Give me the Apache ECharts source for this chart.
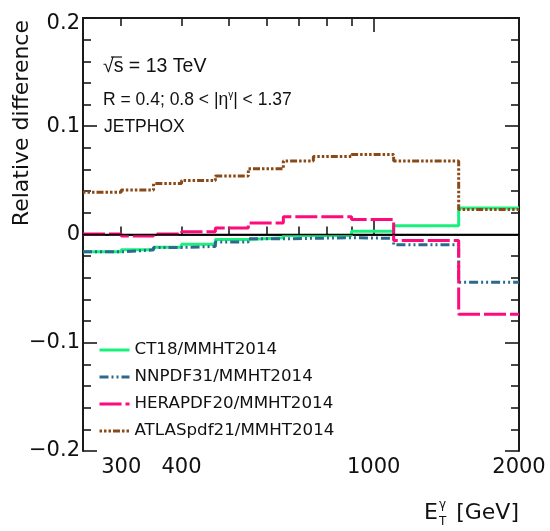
<!DOCTYPE html>
<html><head><meta charset="utf-8">
<script src="https://cdn.jsdelivr.net/npm/echarts@6/dist/echarts.min.js"></script>
<style>html,body{margin:0;padding:0;background:#fff}#c{width:550px;height:531px}</style>
</head><body><div id="c"></div>
<script>
// Bin edges of photon E_T (GeV)
const binEdges = [250, 275, 300, 350, 400, 470, 550, 650, 750, 900, 1100, 1500, 2000];
// Relative difference per bin (12 bins)
const ct18      = [-0.016, -0.016, -0.014, -0.0117, -0.009, -0.0046, -0.003, -0.001, -0.001, 0.003, 0.008, 0.0245];
const nnpdf31   = [-0.016, -0.016, -0.0142, -0.012, -0.011, -0.007, -0.004, -0.0035, -0.003, -0.0035, -0.0095, -0.044];
const herapdf20 = [0.0005, 0.0005, -0.0015, 0.0005, 0.0025, 0.006, 0.0107, 0.0165, 0.0163, 0.0138, -0.0055, -0.0736];
const atlaspdf21= [0.039, 0.039, 0.041, 0.047, 0.050, 0.054, 0.0607, 0.068, 0.072, 0.074, 0.068, 0.0232];
const seriesNames = ['CT18/MMHT2014', 'NNPDF31/MMHT2014', 'HERAPDF20/MMHT2014', 'ATLASpdf21/MMHT2014'];
// Tick labels / tick positions
const xLabelValues = [300, 400, 1000, 2000];
const xMinorTickValues = [300, 400, 500, 600, 700, 800, 900];
const xMajorTickValues = [1000];

function stepData(vals) {
  return binEdges.map((e, i) => [e, vals[Math.min(i, vals.length - 1)]]);
}

const frameColor = '#1a1a1a';
const labelFont = '"DejaVu Sans", sans-serif';
const textFont = '"Liberation Sans", Arial, sans-serif';

function xAx(position, tickVals, len, labels) {
  return {
    type: 'log', logBase: 10, min: 250, max: 2000, position: position,
    axisLine: { show: true, lineStyle: { color: frameColor, width: 2 } },
    axisTick: { show: true, inside: true, length: len, customValues: tickVals,
      lineStyle: { color: frameColor, width: 1.6 } },
    minorTick: { show: false },
    splitLine: { show: false },
    axisLabel: labels ? {
      show: true, customValues: xLabelValues, margin: 6,
      fontFamily: labelFont, fontSize: 21, color: '#111',
      formatter: v => String(Math.round(v))
    } : { show: false }
  };
}
function yAx(position, labels) {
  return {
    type: 'value', min: -0.2, max: 0.2, interval: 0.1, position: position,
    axisLine: { show: true, lineStyle: { color: frameColor, width: 2 } },
    axisTick: { show: true, inside: true, length: 14, lineStyle: { color: frameColor, width: 1.6 } },
    minorTick: { show: true, splitNumber: 5, length: 8, lineStyle: { color: frameColor, width: 1.6 } },
    splitLine: { show: false }, minorSplitLine: { show: false },
    axisLabel: labels ? {
      show: true, margin: 3, fontFamily: labelFont, fontSize: 21, color: '#111',
      formatter: v => {
        const s = Math.abs(v) < 1e-9 ? '0' : (v < 0 ? '\u2212' : '') + Math.abs(v).toFixed(1);
        return v > 0.15 ? '{t|' + s + '}' : s;
      },
      rich: { t: { fontFamily: labelFont, fontSize: 21, color: '#111', padding: [12, 0, 0, 0] } }
    } : { show: false }
  };
}

const styles = [
  { color: '#18f27c', type: 'solid' },
  { color: '#2b6a8e', type: [9, 3, 2, 3, 2, 3] },
  { color: '#ff0a7a', type: [22, 4] },
  { color: '#8a4a17', type: [2.5, 2, 2.5, 2, 2.5, 2, 7, 2] }
];
const allVals = [ct18, nnpdf31, herapdf20, atlaspdf21];

const series = allVals.map((vals, k) => ({
  name: seriesNames[k], type: 'line', step: 'end', data: stepData(vals),
  symbol: 'none', xAxisIndex: 0, yAxisIndex: 0, z: 2 + k,
  lineStyle: { color: styles[k].color, width: 3, type: styles[k].type, cap: 'butt' },
  itemStyle: { color: styles[k].color },
  emphasis: { disabled: true }, animation: false
}));
series[3].markLine = {
  silent: true, symbol: 'none', animation: false,
  label: { show: false },
  lineStyle: { color: '#000', width: 1.3, type: 'solid' },
  data: [{ yAxis: 0 }]
};

const chart = echarts.init(document.getElementById('c'));
chart.setOption({
  animation: false,
  backgroundColor: '#fff',
  grid: { left: 83, right: 31, top: 18, bottom: 80, containLabel: false },
  xAxis: [
    xAx('bottom', xMinorTickValues, 8, true),
    xAx('bottom', xMajorTickValues, 14, false),
    xAx('top', xMinorTickValues, 8, false),
    xAx('top', xMajorTickValues, 14, false)
  ],
  yAxis: [yAx('left', true), yAx('right', false)],
  legend: {
    data: seriesNames, orient: 'vertical', left: 98, top: 340, padding: 0,
    itemWidth: 30, itemHeight: 14, itemGap: 7,
    itemStyle: { opacity: 0 },
    lineStyle: { width: 3 },
    textStyle: { fontFamily: labelFont, fontSize: 16.7, color: '#111', lineHeight: 20 },
    selectedMode: false
  },
  series: series,
  graphic: [
    { type: 'text', x: 103, y: 67, style: { text: '\u221As = 13 TeV', font: '19.5px ' + textFont, fill: '#111', verticalAlign: 'middle' } },
    { type: 'line', shape: { x1: 111, y1: 57, x2: 122, y2: 57 }, style: { stroke: '#111', lineWidth: 1.2 } },
    { type: 'text', x: 103, y: 100, style: {
        text: 'R = 0.4; 0.8 < |\u03b7{sup|\u03b3}| < 1.37', font: '17.5px ' + textFont, fill: '#111', verticalAlign: 'middle',
        rich: { sup: { fontSize: 10, fontFamily: 'Liberation Sans', padding: [0, 0, 9, 0] } } } },
    { type: 'text', x: 104, y: 127, style: { text: 'JETPHOX', font: '17.5px ' + textFont, fill: '#111', verticalAlign: 'middle' } },
    { type: 'text', x: 22, y: 20, rotation: Math.PI / 2, style: { text: 'Relative difference', font: '22px ' + labelFont, fill: '#111', align: 'right', verticalAlign: 'middle' } },
    { type: 'text', x: 424, y: 513, style: { text: 'E', font: '22px ' + labelFont, fill: '#111', verticalAlign: 'middle' } },
    { type: 'text', x: 439, y: 505, style: { text: '\u03b3', font: '12px ' + labelFont, fill: '#111', verticalAlign: 'middle' } },
    { type: 'text', x: 439, y: 522, style: { text: 'T', font: '12px ' + labelFont, fill: '#111', verticalAlign: 'middle' } },
    { type: 'text', x: 519, y: 513, style: { text: '[GeV]', font: '22px ' + labelFont, fill: '#111', align: 'right', verticalAlign: 'middle' } }
  ]
});
</script>
</body></html>
